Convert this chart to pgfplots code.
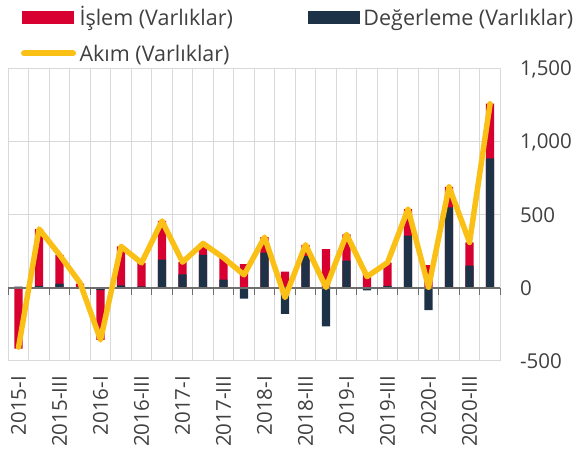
\documentclass[border=0pt]{standalone}
\usepackage{fontspec}
\setmainfont{Open Sans}
\usepackage{pgfplots}
\usepackage{pgfplotstable}
\pgfplotsset{compat=1.18}
\usetikzlibrary{calc}
\definecolor{redC}{HTML}{D70030}
\definecolor{navyC}{HTML}{1D3247}
\definecolor{yellowC}{HTML}{FAC016}
\definecolor{gridC}{HTML}{D9D9D9}
\definecolor{zeroC}{HTML}{6E6E6E}
\definecolor{textC}{HTML}{404040}

\pgfplotstableread{
cat isl deg akim
1 -415 10 -405
2 390 14 404
3 197 30 227
4 25 5 35
5 -340 -15 -355
6 267 18 285
7 161 11 172
8 264 195 459
9 83 94 177
10 78 227 305
11 150 57 207
12 163 -73 90
13 105 243 348
14 112 -177 -65
15 78 218 296
16 266 -262 4
17 179 188 367
18 94 -16 78
19 160 14 174
20 183 358 541
21 157 -152 5
22 140 553 693
23 158 154 312
24 374 888 1262
}\datatable

\begin{document}
\begin{tikzpicture}
\begin{axis}[
  name=main,
  width=492pt, height=292pt, scale only axis,
  xmin=0.5, xmax=24.5, ymin=-500, ymax=1500,
  ytick={-500,0,500,1000,1500},
  yticklabel pos=right,
  xtick={1,3,...,23},
  xticklabels={2015-I,2015-III,2016-I,2016-III,2017-I,2017-III,2018-I,2018-III,2019-I,2019-III,2020-I,2020-III},
  minor xtick={0.5,1.5,...,24.5},
  xminorgrids, ymajorgrids, xmajorgrids=false,
  major tick length=0pt, minor tick length=0pt,
  grid style={gridC, line width=1pt},
  minor grid style={gridC, line width=1pt},
  axis line style={gridC, line width=1pt},
  /pgf/number format/assume math mode=true,
  /pgf/number format/1000 sep={,},
  tick label style={font=\fontsize{20.5}{24}\selectfont, text=textC},
  yticklabel style={anchor=west, inner sep=0pt, xshift=19.5pt},
  xticklabel style={rotate=90, anchor=east, inner sep=0pt},
  xticklabel shift=15pt,
  legend columns=2,
  legend cell align=left,
  legend style={at={(axis description cs:0,1)}, anchor=south west,
    xshift=12.7pt, yshift=2.7pt,
    draw=none, fill=none, inner sep=0pt, outer sep=0pt,
    font=\fontsize{21.5}{26}\selectfont, text=textC,
    row sep=14.5pt,
    nodes={inner sep=0pt, text height=16pt, text depth=5pt},
    /tikz/every odd column/.append style={column sep=3.5pt},
    /tikz/every even column/.append style={column sep=75pt}},
]
\addplot[ybar, bar width=8.3pt, bar shift=0pt, fill=redC, draw=none,
  legend image code/.code={\fill[redC] (0pt,-3.7pt) rectangle (52pt,8.9pt);}]
  table[x=cat, y expr={((\thisrow{isl}>0)==(\thisrow{deg}>0)) ? \thisrow{isl}+\thisrow{deg} : \thisrow{isl}}]{\datatable};
\addlegendentry{İşlem (Varlıklar)}
\addplot[ybar, bar width=8.3pt, bar shift=0pt, fill=navyC, draw=none,
  legend image code/.code={\fill[navyC] (0pt,-3.7pt) rectangle (52pt,8.9pt);}]
  table[x=cat, y=deg]{\datatable};
\addlegendentry{Değerleme (Varlıklar)}
\addlegendimage{legend image code/.code={\draw[yellowC, line width=6pt, line cap=round] (2.5pt,2.3pt) -- (51.5pt,2.3pt);}}
\addlegendentry{Akım (Varlıklar)}
\end{axis}
\begin{axis}[
  width=492pt, height=292pt, scale only axis,
  at={(main.south west)}, anchor=south west,
  xmin=0.5, xmax=24.5, ymin=-500, ymax=1500,
  axis x line=middle, axis y line=none,
  xtick={0.5,1.5,...,24.5}, xticklabels={},
  tick align=outside, major tick length=7pt,
  x axis line style={zeroC, line width=1.8pt, -},
  xtick style={zeroC, line width=1pt},
]
\addplot[yellowC, line width=5.5pt, line join=round, line cap=round] table[x=cat, y=akim]{\datatable};
\end{axis}
\path ($(main.south west)+(-8.3pt,-93pt)$) rectangle ($(main.north east)+(76.7pt,69pt)$);
\end{tikzpicture}
\end{document}
